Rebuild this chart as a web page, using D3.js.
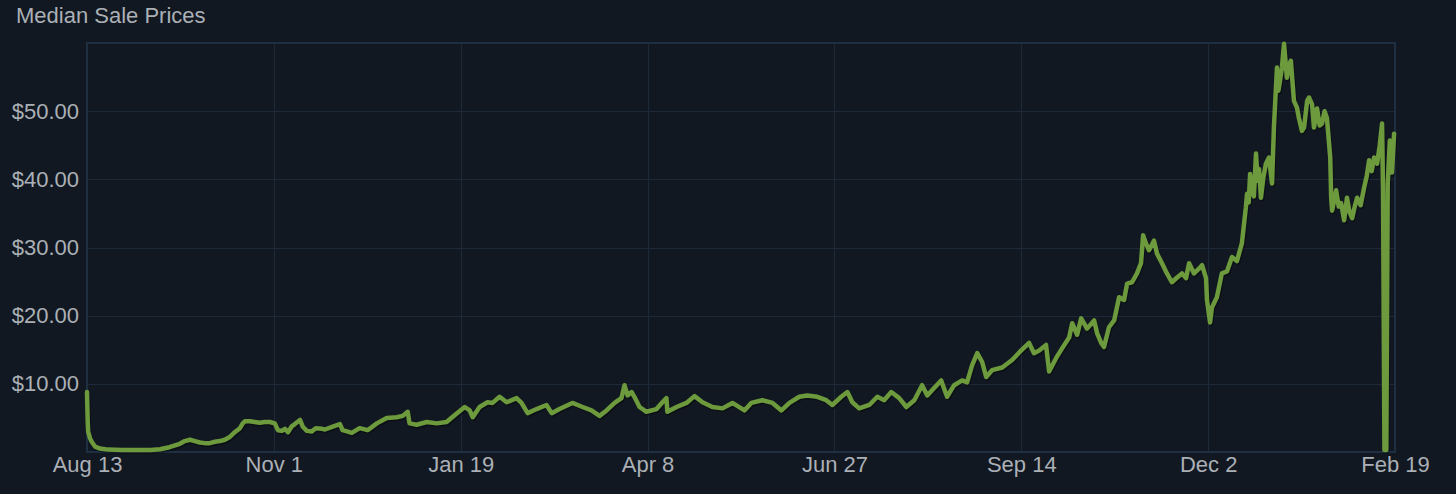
<!DOCTYPE html>
<html><head><meta charset="utf-8">
<script src="https://cdn.jsdelivr.net/npm/d3@7"></script>
<style>
html,body{margin:0;padding:0;background:#111821;}
svg{display:block;}
text{font-family:"Liberation Sans", Arial, Helvetica, sans-serif;}
</style></head><body>
<svg id="chart" width="1456" height="494"></svg>
<script>
const chartTitle = "Median Sale Prices";
const startTime = "2021-08-13T20:00:00";
const endTime = "2023-02-19T22:00:00";
const xTickLabels = ["Aug 13", "Nov 1", "Jan 19", "Apr 8", "Jun 27", "Sep 14", "Dec 2", "Feb 19"];
const yTickValues = [10, 20, 30, 40, 50];
const yMax = 60;
// [days since start, median price in USD]
const priceSeries = [
[0,8.8],[0.3,4.5],[0.5,3.0],[1.3,2.0],[2,1.5],[3.4,0.8],[5.5,0.5],[9,0.35],[15,0.3],[22,0.3],[27,0.3],[31,0.4],[35,0.7],
[39.4,1.2],[41.5,1.6],[43.7,1.8],[45.8,1.6],[47.9,1.4],[50,1.3],[52.1,1.3],[54.3,1.5],[56.4,1.6],[58.5,1.8],[60.6,2.2],
[62.7,2.9],[64.9,3.5],[66.1,4.2],[67,4.5],[69.1,4.5],[71.2,4.4],[73.3,4.3],[75.4,4.4],[77.6,4.4],[79.7,4.2],[81,3.2],
[82.7,3.1],[84,3.4],[85.3,2.9],[87,3.8],[88.2,4.1],[90.4,4.7],[91.6,3.7],[93.3,3.1],[95.4,3.0],[97.1,3.5],[99.7,3.4],
[101,3.3],[104,3.7],[107.3,4.1],[108.5,3.2],[112.4,2.8],[115.7,3.5],[119.1,3.2],[123,4.2],[127.2,5.0],[131.4,5.1],
[134,5.3],[136.1,5.9],[136.9,4.2],[139.9,4.0],[144.2,4.4],[148.4,4.2],[152.6,4.4],[156,5.4],[160.3,6.6],[162.4,6.1],
[163.7,5.1],[166.6,6.6],[170,7.3],[172.1,7.2],[175.1,8.1],[178.1,7.3],[182.3,7.9],[184.4,7.2],[187,5.7],[190.8,6.3],
[195,6.9],[197.2,5.7],[200.5,6.3],[206,7.2],[210.3,6.6],[214.1,6.1],[217.5,5.3],[220.5,6.1],[223.9,7.2],[226.8,7.9],
[228.1,9.8],[229.4,8.3],[231.1,8.8],[232.3,8.1],[234.5,6.6],[237.4,5.9],[241.7,6.3],[244.2,7.3],[245.9,7.9],[246.3,5.9],
[250.2,6.6],[254.4,7.2],[257.8,8.2],[261.2,7.3],[265.4,6.6],[269.7,6.4],[273.9,7.2],[279,6.1],[281.9,7.2],[286.6,7.6],
[290.9,7.2],[294.7,6.1],[298.1,7.2],[302.3,8.1],[305.7,8.3],[309.9,8.1],[313.7,7.6],[316.3,6.9],[320.1,8.1],[322.7,8.8],
[324.8,7.3],[327.7,6.4],[332,6.9],[335.4,8.1],[338.3,7.6],[341.3,8.8],[344.7,7.9],[347.7,6.6],[351.1,7.6],[354.4,9.8],
[356.6,8.3],[359.5,9.4],[362.5,10.5],[365,8.1],[368,9.8],[371.4,10.5],[373.5,10.2],[375.6,12.7],[377.8,14.5],[379.9,13.2],
[381.6,11.0],[384.1,12.0],[388.4,12.4],[392.6,13.5],[395.6,14.6],[399.8,16.0],[401.9,14.5],[404.1,14.9],[407,15.7],
[408.3,11.8],[411.3,13.8],[413.8,15.2],[416.8,16.8],[418.1,18.9],[420.2,17.2],[421.9,19.6],[424.4,18.1],[427.4,19.3],
[428.7,17.4],[430.4,16.0],[431.6,15.4],[433.7,18.3],[435.9,19.3],[438,22.7],[440.1,22.3],[441.4,24.7],[443.5,24.9],
[445.6,26.2],[447.3,27.7],[448.2,31.8],[449.4,30.6],[450.7,29.6],[452.8,31.0],[454.1,29.1],[456.2,27.7],[458.3,26.2],
[460.4,24.9],[462.6,25.6],[464.7,26.2],[466.4,25.5],[467.7,27.7],[469.8,26.2],[471.9,26.9],[473.2,27.4],[474.9,25.5],
[475.3,22.3],[476.6,19.0],[477.4,21.2],[479.5,22.7],[481.6,26.2],[483.8,26.5],[485.9,28.6],[488,28.0],[490.1,30.6],
[491.8,35.9],[492.3,37.9],[493.0,36.6],[493.6,40.8],[494.4,38.4],[495.2,37.5],[496.1,43.8],[496.8,39.8],[497.4,41.5],
[498.2,37.3],[499.2,40.2],[500.3,42.3],[501.6,43.2],[502.9,39.4],
[503.7,47.6],[505,56.4],[505.6,53.0],[506.3,54.5],[507.1,56.4],[508,59.9],[509.2,54.9],[510.1,56.8],[510.9,57.4],[512.2,51.5],[513.5,50.5],
[514.3,49.0],[515.6,47.1],[516.5,47.6],[517.8,51.5],[518.6,52.0],[519.9,51.0],[520.7,47.6],[522,50.4],[523.1,47.9],[524.1,48.2],
[525.2,50.0],[526.2,49.0],[527.6,43.2],[528,37.3],[528.4,35.4],[530.1,38.4],[531.2,36.0],[532.2,36.5],[533.5,34.0],[534.7,37.3],[535.8,35.2],[536.9,34.3],
[538,36.0],[539,37.3],[540.5,36.2],[542,38.8],[543.1,40.5],[544.1,42.8],[545.2,41.2],[546.2,43.2],[547.5,42.3],[548.6,45.0],[549.6,48.2],[550.0,38.4],[550.6,0.3],[551.4,0.3],
[552.0,39.4],[552.9,45.7],[553.8,41.0],[554.7,46.7]
];

const W = 1456, H = 494;
const plot = {left: 87, right: 1395, top: 43, bottom: 452};
const t0 = new Date(startTime), t1 = new Date(endTime);
const DAY = 86400000;
const data = priceSeries.map(([d, v]) => ({date: new Date(t0.getTime() + d * DAY), value: v}));

const svg = d3.select("#chart");
svg.append("rect").attr("width", W).attr("height", H).attr("fill", "#111821");

const x = d3.scaleTime().domain([t0, t1]).range([plot.left, plot.right]);
const y = d3.scaleLinear().domain([0, yMax]).range([plot.bottom, plot.top]);

const step = (t1 - t0) / (xTickLabels.length - 1);
const xTickDates = xTickLabels.map((_, i) => new Date(t0.getTime() + i * step));

// gridlines
const grid = svg.append("g");
grid.selectAll("line.h").data(yTickValues).join("line")
  .attr("x1", plot.left).attr("x2", plot.right)
  .attr("y1", d => Math.round(y(d)) + 0.5).attr("y2", d => Math.round(y(d)) + 0.5)
  .attr("stroke", "#1d2939").attr("stroke-width", 1.2);
grid.selectAll("line.v").data(xTickDates.slice(1, -1)).join("line")
  .attr("y1", plot.top).attr("y2", plot.bottom)
  .attr("x1", d => Math.round(x(d)) + 0.5).attr("x2", d => Math.round(x(d)) + 0.5)
  .attr("stroke", "#1d2939").attr("stroke-width", 1.2);

// border
svg.append("rect")
  .attr("x", plot.left).attr("y", plot.top)
  .attr("width", plot.right - plot.left).attr("height", plot.bottom - plot.top)
  .attr("fill", "none").attr("stroke", "#1f2f42").attr("stroke-width", 2);

// axes (labels only)
const xAxis = d3.axisBottom(x).tickValues(xTickDates)
  .tickFormat((d, i) => xTickLabels[i]).tickSize(0).tickPadding(0);
const gx = svg.append("g").attr("transform", `translate(0,${plot.bottom})`).call(xAxis);
gx.select(".domain").remove();
gx.selectAll("text").attr("dy", null).attr("y", 20)
  .attr("font-size", 22).attr("fill", "#abb0b6")
  .attr("font-family", '"Liberation Sans", Arial, sans-serif');

const yAxis = d3.axisLeft(y).tickValues(yTickValues)
  .tickFormat(d => "$" + d3.format(".2f")(d)).tickSize(0).tickPadding(8);
const gy = svg.append("g").attr("transform", `translate(${plot.left},0)`).call(yAxis);
gy.select(".domain").remove();
gy.selectAll("text").attr("font-size", 22).attr("fill", "#abb0b6")
  .attr("font-family", '"Liberation Sans", Arial, sans-serif');

// line
const line = d3.line().x(d => x(d.date)).y(d => y(d.value));
svg.append("path").datum(data)
  .attr("d", line).attr("fill", "none")
  .attr("stroke", "#000").attr("stroke-opacity", 0.35)
  .attr("stroke-width", 4.5).attr("stroke-linejoin", "round")
  .attr("transform", "translate(1,1.5)");
svg.append("path").datum(data)
  .attr("d", line).attr("fill", "none")
  .attr("stroke", "#6c9a3c").attr("stroke-width", 4.5)
  .attr("stroke-linejoin", "round").attr("stroke-linecap", "round");

// title
svg.append("text").attr("x", 16).attr("y", 23)
  .attr("font-size", 22).attr("fill", "#abb0b6").text(chartTitle);
</script>
</body></html>
